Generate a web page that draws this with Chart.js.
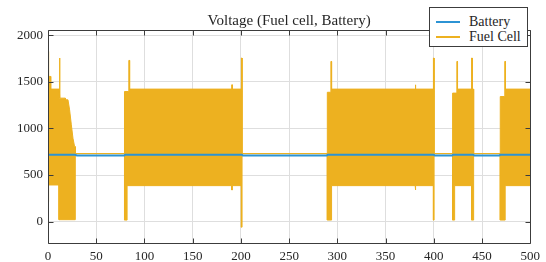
<!DOCTYPE html>
<html>
<head>
<meta charset="utf-8">
<title>Voltage (Fuel cell, Battery)</title>
<script src="https://cdn.jsdelivr.net/npm/chart.js@4.4.1/dist/chart.umd.min.js"></script>
<style>
  body { margin: 0; background: #fff; }
  #wrap { position: relative; width: 546px; height: 262px; }
  #legend { position: absolute; left: 429px; top: 7px; width: 97px; height: 38px; border: 1px solid #3c3c3c; background: #fff; font: 14px 'Liberation Serif', serif; color: #262626; }
  .item { position: absolute; left: 0; width: 97px; height: 16px; line-height: 16px; }
  .swatch { position: absolute; left: 6px; top: 7px; width: 24px; height: 2px; }
  .label { position: absolute; left: 39px; top: 0; white-space: nowrap; }
</style>
</head>
<body>
<div id="wrap">
  <canvas id="chart" width="546" height="262"></canvas>
  <div id="legend"></div>
</div>
<script>
// axis ticks
const xTicks = [0, 50, 100, 150, 200, 250, 300, 350, 400, 450, 500];
const yTicks = [0, 500, 1000, 1500, 2000];

// battery voltage (steps between fuel cell on / off)
const batteryX = [0, 28, 30, 79, 80, 201, 202, 289, 290, 400, 401, 419, 420, 441, 442, 468, 469, 500];
const batteryY = [718, 718, 710, 710, 718, 718, 710, 710, 718, 718, 710, 710, 718, 718, 710, 710, 718, 718];

// fuel cell voltage: upper / lower envelope of the switching signal
const fcUpperX = [0, 0.6, 0.6, 2.8, 2.8, 11.7, 11.7, 12.4, 12.4, 18, 18, 20.7, 22.4, 24.2, 25.9, 27.6, 28.3, 28.3,
  79.3, 79.3, 83.8, 83.8, 84.6, 84.6, 190.5, 190.5, 191.1, 191.1, 200.5, 200.5, 201.2, 201.2,
  289.6, 289.6, 293.3, 293.3, 294, 294, 380.7, 380.7, 381.3, 381.3, 399.6, 399.6, 400.3, 400.3,
  419.5, 419.5, 423.9, 423.9, 424.6, 424.6, 439.2, 439.2, 439.9, 439.9, 441.3, 441.3,
  468.9, 468.9, 473.6, 473.6, 474.3, 474.3, 500];
const fcUpperY = [1828, 1828, 1559, 1559, 1423, 1423, 1757, 1757, 1326, 1326, 1308, 1308, 1200, 1039, 895, 805, 805, 730,
  730, 1397, 1397, 1731, 1731, 1423, 1423, 1469, 1469, 1423, 1423, 1757, 1757, 730,
  730, 1389, 1389, 1720, 1720, 1423, 1423, 1469, 1469, 1423, 1423, 1757, 1757, 730,
  730, 1380, 1380, 1720, 1720, 1423, 1423, 1757, 1757, 1423, 1423, 730,
  730, 1343, 1343, 1720, 1720, 1423, 1423];
const fcLowerX = [0, 0.6, 0.6, 11.4, 11.4, 28.3, 28.3,
  79.3, 79.3, 82, 82, 190.5, 190.5, 191.1, 191.1, 200.5, 200.5, 201.2, 201.2,
  289.6, 289.6, 294, 294, 380.7, 380.7, 381.3, 381.3, 399.6, 399.6, 400.3, 400.3,
  419.5, 419.5, 421.6, 421.6, 439.2, 439.2, 441.3, 441.3,
  468.9, 468.9, 474, 474, 500];
const fcLowerY = [213, 213, 393, 393, 20, 20, 730,
  730, 16, 16, 386, 386, 339, 339, 386, 386, -60, -60, 730,
  730, 16, 16, 386, 386, 339, 339, 386, 386, 16, 16, 730,
  730, 16, 16, 386, 386, 16, 16, 730,
  730, 16, 16, 386, 386];

const blue = '#2C93D4';
const yellow = '#EDB120';

const toPoints = (xs, ys) => xs.map((x, i) => ({ x: x, y: ys[i] }));

// box + inward ticks, matlab style
const frame = {
  id: 'frame',
  afterDraw(chart) {
    const { ctx, chartArea: a, scales: { x, y } } = chart;
    const l = Math.round(a.left) + 0.5, r = Math.round(a.right) + 0.5;
    const t = Math.round(a.top) + 0.5, b = Math.round(a.bottom) + 0.5;
    ctx.save();
    ctx.strokeStyle = '#3c3c3c';
    ctx.lineWidth = 1;
    ctx.beginPath();
    xTicks.forEach(v => {
      const px = Math.round(x.getPixelForValue(v)) + 0.5;
      ctx.moveTo(px, b); ctx.lineTo(px, b - 5);
      ctx.moveTo(px, t); ctx.lineTo(px, t + 5);
    });
    yTicks.forEach(v => {
      const py = Math.round(y.getPixelForValue(v)) + 0.5;
      ctx.moveTo(l, py); ctx.lineTo(l + 5, py);
      ctx.moveTo(r, py); ctx.lineTo(r - 5, py);
    });
    ctx.rect(l, t, r - l, b - t);
    ctx.stroke();
    ctx.restore();
  }
};

Chart.defaults.font.family = "'Liberation Serif', serif";
Chart.defaults.color = '#262626';

const chart = new Chart(document.getElementById('chart'), {
  type: 'line',
  data: {
    datasets: [
      {
        label: 'Battery',
        data: toPoints(batteryX, batteryY),
        borderColor: blue,
        backgroundColor: blue,
        borderWidth: 2,
        pointRadius: 0,
        fill: false
      },
      {
        label: 'Fuel Cell',
        data: toPoints(fcUpperX, fcUpperY),
        borderColor: yellow,
        backgroundColor: yellow,
        borderWidth: 1,
        pointRadius: 0,
        fill: '+1'
      },
      {
        label: '',
        data: toPoints(fcLowerX, fcLowerY),
        borderColor: yellow,
        backgroundColor: yellow,
        borderWidth: 1,
        pointRadius: 0,
        fill: false
      }
    ]
  },
  options: {
    responsive: false,
    animation: false,
    devicePixelRatio: 1,
    layout: { padding: { left: 0, right: 14, top: 0, bottom: 0 } },
    elements: { line: { tension: 0 } },
    scales: {
      x: {
        type: 'linear',
        min: 0,
        max: 500,
        afterBuildTicks: s => { s.ticks = xTicks.map(v => ({ value: v })); },
        afterFit: s => { s.height = 19.5; },
        grid: { color: '#dedede', drawTicks: false },
        border: { display: false },
        ticks: { font: { size: 13 }, padding: 6, maxRotation: 0, callback: v => String(v) }
      },
      y: {
        min: -225,
        max: 2058,
        afterBuildTicks: s => { s.ticks = yTicks.map(v => ({ value: v })); },
        afterFit: s => { s.width = 48; },
        grid: { color: '#dedede', drawTicks: false },
        border: { display: false },
        ticks: { font: { size: 13 }, padding: 5, callback: v => String(v) }
      }
    },
    plugins: {
      legend: { display: false },
      tooltip: { enabled: false },
      title: {
        display: true,
        text: 'Voltage (Fuel cell, Battery)',
        fullSize: false,
        font: { size: 15, weight: 'normal' },
        color: '#262626',
        padding: { top: 12, bottom: 0 }
      }
    }
  },
  plugins: [frame]
});

// legend box drawn over the top right corner
const legend = document.getElementById('legend');
chart.data.datasets.filter(d => d.label).forEach((d, i) => {
  const item = document.createElement('div');
  item.className = 'item';
  item.style.top = (6 + i * 15) + 'px';
  item.innerHTML = '<span class="swatch" style="background:' + d.borderColor + '"></span><span class="label">' + d.label + '</span>';
  legend.appendChild(item);
});
</script>
</body>
</html>
